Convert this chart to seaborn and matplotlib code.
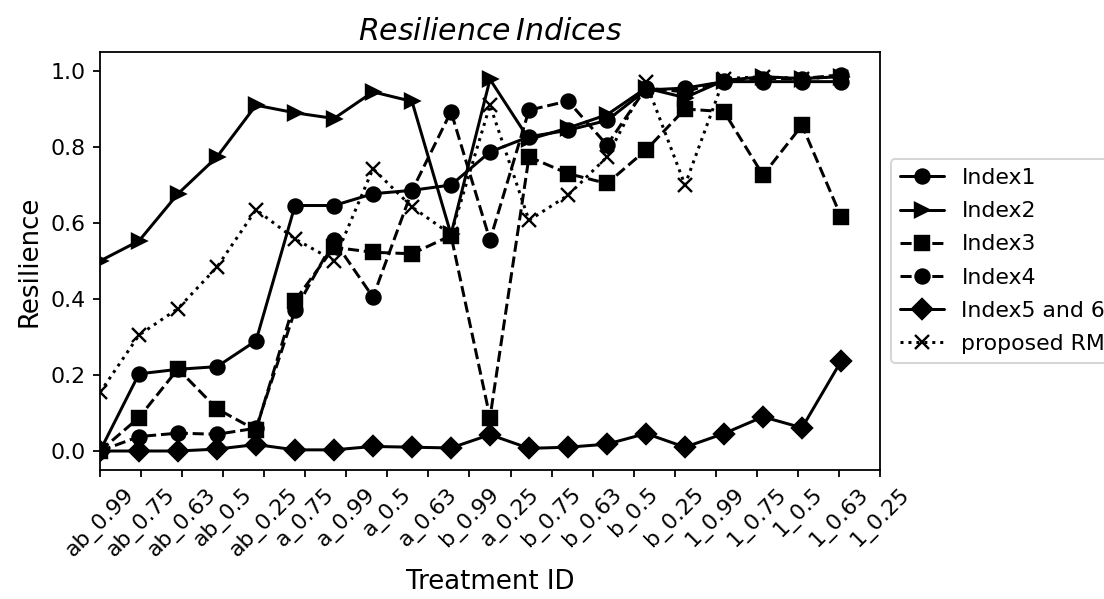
import numpy as np
import matplotlib
matplotlib.use("Agg")
import matplotlib.pyplot as plt
import seaborn as sns

# Treatment IDs shown along the x axis
treatments = ["ab_0.99", "ab_0.75", "ab_0.63", "ab_0.5", "ab_0.25",
              "a_0.75", "a_0.99", "a_0.5", "a_0.63", "b_0.99",
              "a_0.25", "b_0.75", "b_0.63", "b_0.5", "b_0.25",
              "1_0.99", "1_0.75", "1_0.5", "1_0.63", "1_0.25"]

# Resilience values per index (one value per treatment run)
index1 = [0.0, 0.203, 0.215, 0.222, 0.29, 0.646, 0.646, 0.677, 0.686, 0.70,
          0.787, 0.827, 0.844, 0.87, 0.95, 0.955, 0.972, 0.972, 0.972, 0.972]
index2 = [0.50, 0.553, 0.677, 0.774, 0.91, 0.89, 0.875, 0.945, 0.92, 0.57,
          0.978, 0.82, 0.85, 0.885, 0.955, 0.93, 0.975, 0.985, 0.98, 0.985]
index3 = [0.0, 0.088, 0.216, 0.111, 0.055, 0.396, 0.536, 0.523, 0.519, 0.567,
          0.088, 0.774, 0.73, 0.704, 0.792, 0.90, 0.893, 0.726, 0.857, 0.617]
index4 = [0.0, 0.038, 0.047, 0.044, 0.06, 0.37, 0.554, 0.405, 0.685, 0.893,
          0.555, 0.897, 0.921, 0.805, 0.955, 0.945, 0.975, 0.98, 0.98, 0.99]
index5 = [0.0, 0.0, 0.0, 0.005, 0.017, 0.003, 0.003, 0.012, 0.01, 0.008,
          0.043, 0.007, 0.01, 0.018, 0.046, 0.01, 0.046, 0.09, 0.061, 0.236]
proposed_rm = [0.154, 0.305, 0.375, 0.484, 0.635, 0.558, 0.501, 0.743, 0.642, 0.57,
               0.91, 0.607, 0.673, 0.774, 0.97, 0.70, 0.98, 0.985, 0.98, 0.985]

sns.set_theme(style="ticks", rc={
    "axes.edgecolor": "black",
    "axes.linewidth": 0.9,
    "xtick.color": "black",
    "ytick.color": "black",
    "xtick.major.size": 3.5,
    "ytick.major.size": 3.5,
    "xtick.major.width": 0.9,
    "ytick.major.width": 0.9,
    "text.color": "black",
    "axes.labelcolor": "black",
    "xtick.labelsize": 11,
    "ytick.labelsize": 11,
    "axes.labelsize": 13,
    "legend.fontsize": 11,
})
plt.rcParams["font.family"] = ["DejaVu Sans"]
plt.rcParams["mathtext.fontset"] = "dejavusans"

fig = plt.figure(figsize=(1104 / 144, 599 / 144), dpi=144)
ax = fig.add_axes([100 / 1104, 1 - 470 / 599, 780 / 1104, 418 / 599])

x = np.arange(len(treatments))
series = [
    ("Index1", index1, "-", "o", 7),
    ("Index2", index2, "-", ">", 7),
    ("Index3", index3, "--", "s", 7),
    ("Index4", index4, "--", "o", 7),
    ("Index5 and 6", index5, "-", "D", 7),
    ("proposed RM", proposed_rm, ":", "x", 7),
]
for name, vals, ls, mk, ms in series:
    sns.lineplot(x=x, y=vals, ax=ax, color="black", linestyle=ls, linewidth=1.5,
                 marker=mk, markersize=ms, markeredgecolor="black",
                 markerfacecolor="black", markeredgewidth=1.2,
                 errorbar=None, label=name)

ax.set_xlim(0, 20)
ax.set_ylim(-0.05, 1.05)
ax.set_xticks(np.linspace(0, 20, len(treatments)))
ax.set_xticklabels(treatments, rotation=45)
ax.set_yticks([0.0, 0.2, 0.4, 0.6, 0.8, 1.0])
ax.set_yticklabels(["0.0", "0.2", "0.4", "0.6", "0.8", "1.0"])
ax.set_xlabel("Treatment ID")
ax.set_ylabel("Resilience")
ax.set_title(r"$Resilience\,Indices$", fontsize=15)
ax.legend(loc="center left", bbox_to_anchor=(1, 0.5), frameon=True,
          edgecolor="0.8", fancybox=True, labelspacing=0.6)

fig.savefig("out.png", dpi=144)
